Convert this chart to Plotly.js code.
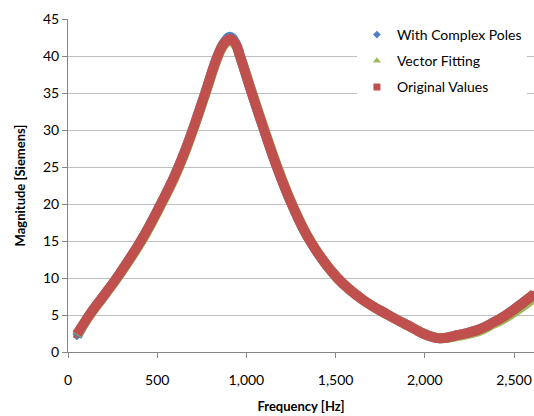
<!DOCTYPE html>
<html>
<head>
<meta charset="utf-8">
<script src="https://cdn.plot.ly/plotly-3.0.1.min.js"></script>
<style>html,body{margin:0;padding:0;background:#fff;}#chart{width:534px;height:416px;}</style>
</head>
<body>
<div id="chart"></div>
<script>
// Frequency [Hz]
const freq = [50, 120, 200, 273, 413, 516, 594, 650, 706, 768, 839, 875, 908, 940, 964, 1030, 1099, 1171, 1254, 1357, 1510, 1650, 1795, 1936, 2000, 2085, 2190, 2300, 2384, 2450, 2612];
// Magnitude [Siemens]
const originalValues = [2.4, 5.0, 7.6, 10.0, 15.2, 19.8, 23.6, 26.8, 30.5, 34.9, 40.0, 41.7, 42.3, 41.6, 40.0, 35.0, 30.0, 25.0, 20.0, 15.0, 10.0, 7.1, 5.0, 3.2, 2.4, 1.85, 2.3, 3.0, 4.0, 4.9, 7.8];
const vectorFitting  = [2.3, 4.9, 7.5, 9.9, 15.0, 19.6, 23.4, 26.6, 30.3, 34.7, 39.8, 41.5, 42.1, 41.5, 40.0, 35.2, 30.2, 25.2, 20.1, 15.1, 10.0, 7.1, 5.0, 3.2, 2.4, 1.85, 2.2, 2.8, 3.8, 4.6, 7.3];
const complexPoles   = [2.1, 5.0, 7.6, 10.0, 15.2, 19.8, 23.6, 26.8, 30.5, 34.9, 40.0, 41.8, 42.6, 41.7, 40.0, 35.0, 30.0, 25.0, 20.0, 15.0, 10.0, 7.1, 5.0, 3.2, 2.4, 1.85, 2.3, 3.0, 4.0, 4.9, 7.8];

const names = ['With Complex Poles', 'Vector Fitting', 'Original Values'];
const colors = ['#4F81BD', '#9BBB59', '#C0504D'];
const symbols = ['diamond', 'triangle-up', 'square'];
const msizes = [6, 7, 7];
const series = [complexPoles, vectorFitting, originalValues];

const traces = [];
// legend / marker traces
series.forEach((ys, i) => {
  traces.push({
    x: freq, y: ys, type: 'scatter', mode: 'markers', name: names[i],
    legendgroup: 'g' + i,
    marker: {symbol: symbols[i], color: colors[i], size: msizes[i]},
    hoverinfo: 'skip'
  });
});
// thick bands of densely packed markers
series.forEach((ys, i) => {
  traces.push({
    x: freq, y: ys, type: 'scatter', mode: 'lines', showlegend: false,
    line: {color: colors[i], width: 10, shape: 'spline', smoothing: 1.2},
    hoverinfo: 'skip'
  });
});

const font = 'Lato, "Open Sans", "Liberation Sans", sans-serif';
const layout = {
  width: 534, height: 416,
  margin: {l: 68, r: 0, t: 19, b: 64},
  paper_bgcolor: '#fff', plot_bgcolor: '#fff',
  font: {family: font, size: 14, color: '#000'},
  separators: '.,',
  showlegend: true,
  legend: {
    x: 0.62, y: 1.0, xanchor: 'left', yanchor: 'top',
    bgcolor: '#fff', borderwidth: 0,
    font: {family: font, size: 14, color: '#000'},
    tracegroupgap: 5
  },
  xaxis: {
    range: [0, 2612], tickvals: [0, 500, 1000, 1500, 2000, 2500], tickformat: ',d',
    showgrid: false, zeroline: false, showline: true, linecolor: '#868686', linewidth: 1,
    ticks: 'outside', ticklen: 5, tickcolor: '#868686', ticklabelstandoff: 10,
    tickfont: {family: font, size: 14},
    title: {text: '<b>Frequency [Hz]</b>', font: {family: font, size: 13}, standoff: 15}
  },
  yaxis: {
    range: [0, 45], dtick: 5,
    showgrid: true, gridcolor: '#BFBFBF', gridwidth: 1,
    zeroline: false, showline: true, linecolor: '#868686', linewidth: 1,
    ticks: 'outside', ticklen: 5, tickcolor: '#868686',
    tickfont: {family: font, size: 14},
    title: {text: '<b>Magnitude [Siemens]</b>', font: {family: font, size: 13}, standoff: 14}
  }
};

Plotly.newPlot('chart', traces, layout, {displayModeBar: false, staticPlot: true});
</script>
</body>
</html>
